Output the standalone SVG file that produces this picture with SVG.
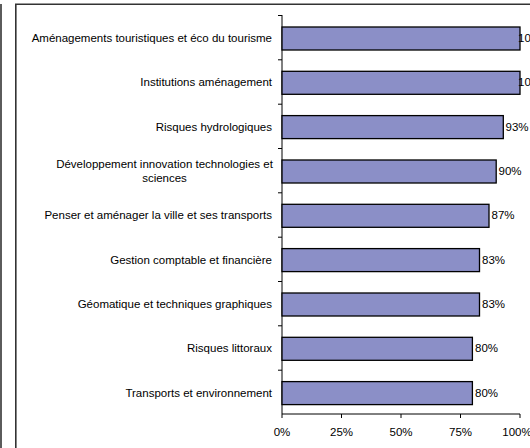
<svg xmlns="http://www.w3.org/2000/svg" width="530" height="448" viewBox="0 0 530 448">
<style>
text{font-family:"Liberation Sans",Arial,sans-serif;font-size:11.5px;fill:#000}
.lab{text-anchor:end}
.mid{text-anchor:middle}
.bar{fill:#8b8fc7;stroke:#000;stroke-width:1.3}
.ax{stroke:#000;stroke-width:1;fill:none}
.frame{stroke:#333;stroke-width:1.6;fill:none}
</style>
<rect x="0" y="0" width="530" height="448" fill="#fff"/>
<g id="frame">
<line class="frame" x1="1" y1="4" x2="1" y2="448"/>
<path class="frame" d="M15.8 448 V4.3 H530"/>
</g>
<g id="axes">
<path class="ax" d="M282 15 V414 H520"/>
<path class="ax" d="M278 15.5H282M278 59.8H282M278 104.2H282M278 148.5H282M278 192.8H282M278 237.2H282M278 281.5H282M278 325.8H282M278 370.2H282"/>
<path class="ax" d="M282 414V418M341.5 414V418M401 414V418M460.5 414V418M520 414V418"/>
<text class="mid" x="282" y="436">0%</text>
<text class="mid" x="341.5" y="436">25%</text>
<text class="mid" x="401" y="436">50%</text>
<text class="mid" x="460.5" y="436">75%</text>
<text class="mid" x="517" y="436">100%</text>
</g>
<g id="cat1">
<text class="lab" x="272" y="42">Aménagements touristiques et éco du tourisme</text>
<rect class="bar" x="282" y="27" width="238" height="23"/>
<text x="518" y="42">100%</text>
</g>
<g id="cat2">
<text class="lab" x="272" y="86">Institutions aménagement</text>
<rect class="bar" x="282" y="71.3" width="238" height="23"/>
<text x="518" y="86">100%</text>
</g>
<g id="cat3">
<text class="lab" x="272" y="130.5">Risques hydrologiques</text>
<rect class="bar" x="282" y="115.6" width="221.3" height="23"/>
<text x="505.5" y="130.5">93%</text>
</g>
<g id="cat4">
<text class="mid" x="164.5" y="167.5">Développement innovation technologies et</text>
<text class="mid" x="164.5" y="181.5">sciences</text>
<rect class="bar" x="282" y="160" width="214.2" height="23"/>
<text x="498.5" y="175">90%</text>
</g>
<g id="cat5">
<text class="lab" x="272" y="219">Penser et aménager la ville et ses transports</text>
<rect class="bar" x="282" y="204.3" width="207" height="23"/>
<text x="491.5" y="219">87%</text>
</g>
<g id="cat6">
<text class="lab" x="272" y="263.5">Gestion comptable et financière</text>
<rect class="bar" x="282" y="248.6" width="197.5" height="23"/>
<text x="482" y="263.5">83%</text>
</g>
<g id="cat7">
<text class="lab" x="272" y="307.8">Géomatique et techniques graphiques</text>
<rect class="bar" x="282" y="293" width="197.5" height="23"/>
<text x="482" y="307.8">83%</text>
</g>
<g id="cat8">
<text class="lab" x="272" y="352">Risques littoraux</text>
<rect class="bar" x="282" y="337.3" width="190.4" height="23"/>
<text x="475" y="352">80%</text>
</g>
<g id="cat9">
<text class="lab" x="272" y="396.5">Transports et environnement</text>
<rect class="bar" x="282" y="381.6" width="190.4" height="23"/>
<text x="475" y="396.5">80%</text>
</g>
</svg>
